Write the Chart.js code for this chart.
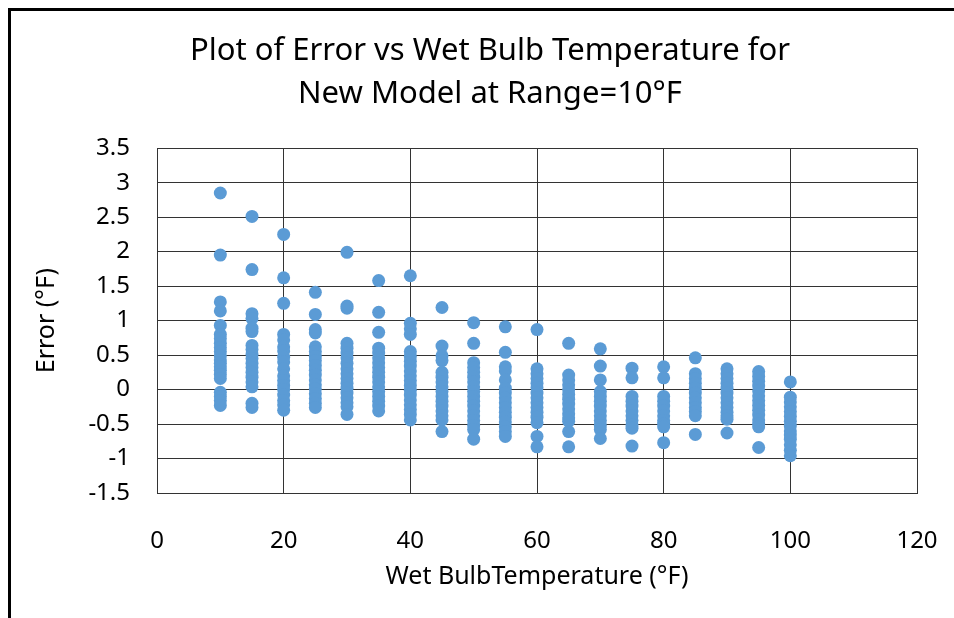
<!DOCTYPE html>
<html>
<head>
<meta charset="utf-8">
<script src="https://cdn.jsdelivr.net/npm/chart.js@4/dist/chart.umd.min.js"></script>
<style>
  html, body { margin: 0; padding: 0; background: #fff; }
  #wrap { width: 954px; height: 618px; position: relative; }
</style>
</head>
<body>
<div id="wrap"><canvas id="chart" width="954" height="618"></canvas></div>
<script>
// error (°F) at each wet bulb temperature
const e10 = [2.85, 1.95, 1.27, 1.14, 0.93, 0.80, 0.74, 0.67, 0.61, 0.55, 0.49, 0.43, 0.38, 0.33, 0.28, 0.22, 0.16, -0.04, -0.10, -0.16, -0.23];
const e15 = [2.51, 1.74, 1.10, 1.03, 0.89, 0.84, 0.64, 0.58, 0.51, 0.45, 0.38, 0.32, 0.25, 0.18, 0.11, 0.04, -0.20, -0.26];
const e20 = [2.25, 1.62, 1.25, 0.80, 0.72, 0.62, 0.56, 0.47, 0.40, 0.30, 0.20, 0.13, 0.06, 0.00, -0.08, -0.16, -0.22, -0.30];
const e25 = [1.41, 1.09, 0.87, 0.82, 0.62, 0.55, 0.48, 0.42, 0.35, 0.28, 0.21, 0.14, 0.07, 0.01, -0.06, -0.13, -0.20, -0.26];
const e30 = [1.99, 1.21, 1.18, 0.67, 0.60, 0.53, 0.46, 0.38, 0.30, 0.23, 0.16, 0.09, 0.02, -0.05, -0.12, -0.19, -0.25, -0.36];
const e35 = [1.58, 1.12, 0.83, 0.60, 0.53, 0.46, 0.39, 0.32, 0.25, 0.18, 0.11, 0.04, -0.03, -0.10, -0.17, -0.24, -0.31];
const e40 = [1.65, 0.96, 0.88, 0.80, 0.55, 0.48, 0.41, 0.34, 0.27, 0.20, 0.13, 0.06, -0.01, -0.08, -0.15, -0.22, -0.29, -0.36, -0.44];
const e45 = [1.19, 0.63, 0.49, 0.42, 0.25, 0.18, 0.11, 0.04, -0.03, -0.10, -0.17, -0.24, -0.31, -0.38, -0.44, -0.61];
const e50 = [0.97, 0.67, 0.39, 0.32, 0.25, 0.18, 0.11, 0.04, -0.03, -0.10, -0.17, -0.24, -0.31, -0.38, -0.45, -0.52, -0.58, -0.72];
const e55 = [0.91, 0.54, 0.33, 0.27, 0.14, 0.02, -0.05, -0.12, -0.19, -0.26, -0.33, -0.40, -0.47, -0.54, -0.61, -0.68];
const e60 = [0.87, 0.30, 0.23, 0.16, 0.09, 0.03, -0.05, -0.12, -0.19, -0.26, -0.33, -0.40, -0.48, -0.68, -0.83];
const e65 = [0.67, 0.21, 0.14, 0.07, 0.00, -0.07, -0.14, -0.21, -0.28, -0.35, -0.41, -0.46, -0.61, -0.83];
const e70 = [0.59, 0.34, 0.14, -0.03, -0.10, -0.17, -0.24, -0.31, -0.38, -0.45, -0.52, -0.58, -0.71];
const e75 = [0.31, 0.17, -0.10, -0.17, -0.24, -0.31, -0.38, -0.45, -0.51, -0.56, -0.82];
const e80 = [0.33, 0.17, -0.10, -0.17, -0.24, -0.31, -0.38, -0.45, -0.50, -0.54, -0.77];
const e85 = [0.46, 0.23, 0.16, 0.09, 0.02, -0.05, -0.12, -0.19, -0.26, -0.32, -0.38, -0.65];
const e90 = [0.30, 0.23, 0.16, 0.09, 0.02, -0.05, -0.12, -0.19, -0.26, -0.33, -0.38, -0.43, -0.63];
const e95 = [0.26, 0.19, 0.12, 0.05, -0.02, -0.09, -0.16, -0.23, -0.30, -0.37, -0.44, -0.50, -0.54, -0.84];
const e100 = [0.11, -0.11, -0.18, -0.25, -0.32, -0.39, -0.46, -0.53, -0.60, -0.66, -0.72, -0.80, -0.88, -0.96];

const wetBulb = [10, 15, 20, 25, 30, 35, 40, 45, 50, 55, 60, 65, 70, 75, 80, 85, 90, 95, 100];
const errors = [e10, e15, e20, e25, e30, e35, e40, e45, e50, e55, e60, e65, e70, e75, e80, e85, e90, e95, e100];

const titleLines = ['Plot of Error vs Wet Bulb Temperature for', 'New Model at Range=10°F'];
const xTitle = 'Wet BulbTemperature (°F)';
const yTitle = 'Error (°F)';

const points = [];
wetBulb.forEach((t, i) => {
  errors[i].forEach(v => points.push({ x: t, y: v }));
});

const FONT = "'Noto Sans', 'DejaVu Sans', sans-serif";
const GRID = '#333333';

// white background and the black frame round the chart object
const framePlugin = {
  id: 'frame',
  beforeDraw(chart) {
    const ctx = chart.ctx;
    ctx.save();
    ctx.fillStyle = '#fff';
    ctx.fillRect(0, 0, chart.width, chart.height);
    ctx.fillStyle = '#000';
    ctx.fillRect(8, 8, chart.width - 8, 3);
    ctx.fillRect(8, 8, 3, chart.height - 8);
    ctx.restore();
  }
};

new Chart(document.getElementById('chart'), {
  type: 'scatter',
  data: {
    datasets: [{
      label: 'Error',
      data: points,
      backgroundColor: '#5B9BD5',
      borderWidth: 0,
      pointRadius: 6.5,
      pointHoverRadius: 6.5
    }]
  },
  options: {
    responsive: false,
    animation: false,
    layout: { padding: { left: 26, right: 0, top: 0, bottom: 0 } },
    plugins: {
      legend: { display: false },
      tooltip: { enabled: false },
      title: {
        display: true,
        text: titleLines,
        color: '#000',
        font: { family: FONT, size: 31, weight: 'normal', lineHeight: 1.39 },
        padding: { top: 30, bottom: 32 }
      }
    },
    scales: {
      x: {
        type: 'linear',
        min: 0,
        max: 120,
        afterFit: (scale) => { scale.height = 125; scale.paddingRight = 37; },
        ticks: {
          stepSize: 20,
          color: '#000',
          padding: 34,
          maxRotation: 0,
          font: { family: FONT, size: 24 }
        },
        grid: { color: GRID, lineWidth: 1, drawTicks: false },
        border: { color: GRID, width: 1 },
        title: {
          display: true,
          text: xTitle,
          color: '#000',
          font: { family: FONT, size: 25 },
          padding: { top: 0, bottom: 26 }
        }
      },
      y: {
        type: 'linear',
        min: -1.5,
        max: 3.5,
        afterFit: (scale) => { scale.width = 131; },
        ticks: {
          stepSize: 0.5,
          color: '#000',
          padding: 27,
          font: { family: FONT, size: 24 },
          callback: (value) => String(Math.round(value * 10) / 10)
        },
        grid: { color: GRID, lineWidth: 1, drawTicks: false },
        border: { color: GRID, width: 1 },
        title: {
          display: true,
          text: yTitle,
          color: '#000',
          font: { family: FONT, size: 25 },
          padding: { top: 6, bottom: 0 }
        }
      }
    }
  },
  plugins: [framePlugin]
});
</script>
</body>
</html>
